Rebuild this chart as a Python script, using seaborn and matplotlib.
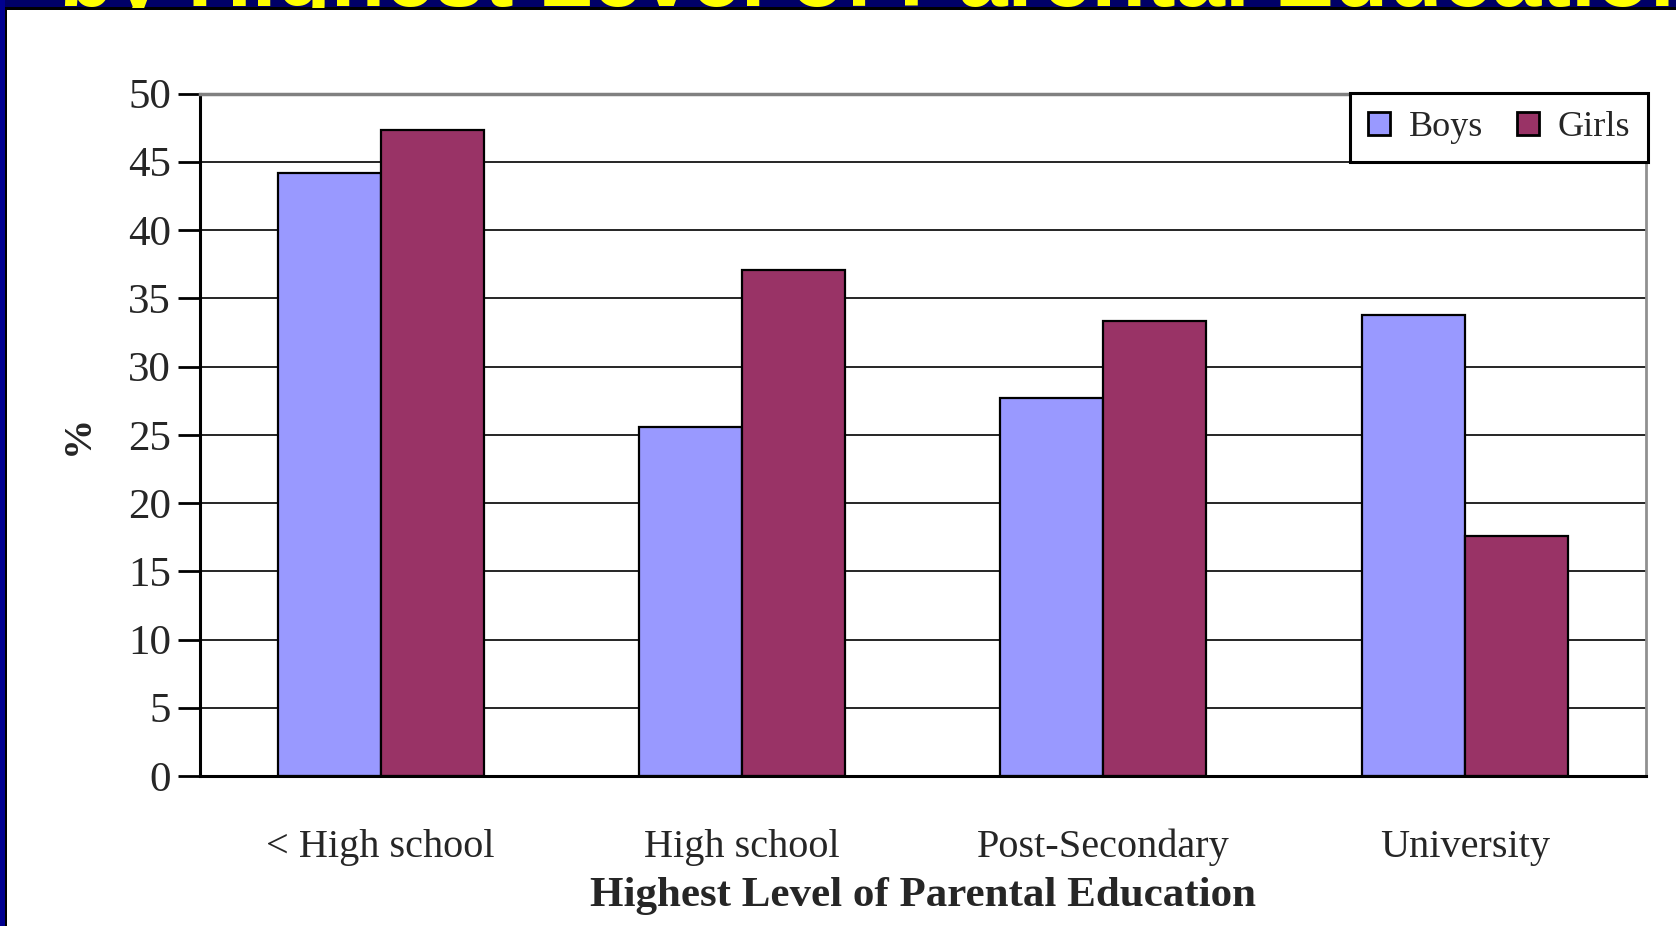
import matplotlib
matplotlib.use("Agg")
import matplotlib.pyplot as plt
from matplotlib.patches import Rectangle
from matplotlib.transforms import Bbox, TransformedBbox
import seaborn as sns
import pandas as pd
import numpy as np

# Share (%) by highest level of parental education
categories = ["< High school", "High school", "Post-Secondary", "University"]
boys = [44.2, 25.6, 27.7, 33.8]
girls = [47.3, 37.1, 33.3, 17.6]
series_names = ["Boys", "Girls"]
y_ticks = [0, 5, 10, 15, 20, 25, 30, 35, 40, 45, 50]

df = pd.DataFrame({
    "category": categories * 2,
    "value": boys + girls,
    "group": [series_names[0]] * len(categories) + [series_names[1]] * len(categories),
})

sns.set_theme(style="white")
plt.rcParams["font.family"] = ["Liberation Serif", "DejaVu Serif"]

W, H = 1676, 926
fig = plt.figure(figsize=(W / 100, H / 100), dpi=100)
fig.patch.set_facecolor("white")

# Slide frame: navy header strip and left border
navy = "#000066"
fig.add_artist(Rectangle((0, 1 - 7.5 / H), 1, 7.5 / H, transform=fig.transFigure,
                         facecolor=navy, edgecolor="none", zorder=0))
fig.add_artist(Rectangle((0, 1 - 9.5 / H), 1, 2.0 / H, transform=fig.transFigure,
                         facecolor="black", edgecolor="none", zorder=0))
fig.add_artist(Rectangle((0, 0), 5 / W, 1, transform=fig.transFigure,
                         facecolor="#000090", edgecolor="none", zorder=0))
fig.add_artist(Rectangle((5 / W, 0), 2 / W, 1 - 7.5 / H, transform=fig.transFigure,
                         facecolor="black", edgecolor="none", zorder=0))
title = fig.text(59 / W, 1 - 6 / H, "by Highest Level of Parental Education",
                 color="#FFFF00", fontsize=64, fontweight="bold",
                 family=["Liberation Sans", "DejaVu Sans"], ha="left", va="baseline")
title.set_clip_box(TransformedBbox(Bbox([[0, 1 - 7.5 / H], [1, 1]]), fig.transFigure))
title.set_clip_on(True)

ax = fig.add_axes([200 / W, 1 - 776 / H, (1645.5 - 200) / W, (776 - 93.5) / H])
ax.set_zorder(2)

sns.barplot(data=df, x="category", y="value", hue="group", order=categories,
            hue_order=series_names, palette=["#9999FF", "#993366"],
            width=0.57, saturation=1, edgecolor="black", linewidth=1.6,
            legend=True, ax=ax)

ax.set_ylim(0, 50)
ax.set_xlim(-0.5, len(categories) - 0.5)
ax.set_yticks(y_ticks)
ax.set_yticklabels([str(v) for v in y_ticks], fontsize=31)
ax.yaxis.grid(True, color="black", linewidth=1.2)
ax.set_axisbelow(True)

# Category labels at group centres, tick marks at group boundaries
ax.set_xticks(range(len(categories)))
ax.set_xticklabels(categories, fontsize=29)
ax.set_xticks(np.arange(-0.5, len(categories), 1.0), minor=True)
ax.tick_params(axis="x", which="major", length=0, pad=38)
ax.tick_params(axis="x", which="minor", length=14, width=2, color="black", direction="out")
ax.tick_params(axis="y", which="major", length=16, width=2, color="black",
               direction="out", pad=5, left=True)

for side in ["left", "bottom"]:
    ax.spines[side].set_color("black")
    ax.spines[side].set_linewidth(2.2)
ax.spines["top"].set_color("#808080")
ax.spines["top"].set_linewidth(2.5)
ax.spines["right"].set_color("#909090")
ax.spines["right"].set_linewidth(2)

ax.set_xlabel("Highest Level of Parental Education", fontsize=31, fontweight="bold", labelpad=8)
ax.set_ylabel("%", fontsize=29, fontweight="bold", labelpad=22)

handles, labels = ax.get_legend_handles_labels()
ax.get_legend().remove()
leg = fig.legend(handles, labels, loc="upper right",
                 bbox_to_anchor=(1648 / W, 1 - 93 / H), bbox_transform=fig.transFigure,
                 ncol=2, fontsize=26, frameon=True, fancybox=False, shadow=False,
                 handlelength=0.62, handleheight=0.62, handletextpad=0.5,
                 columnspacing=0.95, borderpad=0.5, borderaxespad=0)
leg.get_frame().set_edgecolor("black")
leg.get_frame().set_linewidth(2.2)
leg.get_frame().set_facecolor("white")
leg.get_frame().set_alpha(1)
leg.set_zorder(5)
for h in leg.legend_handles:
    h.set_edgecolor("black")
    h.set_linewidth(2)

fig.savefig("out.png", dpi=100, facecolor="white")
